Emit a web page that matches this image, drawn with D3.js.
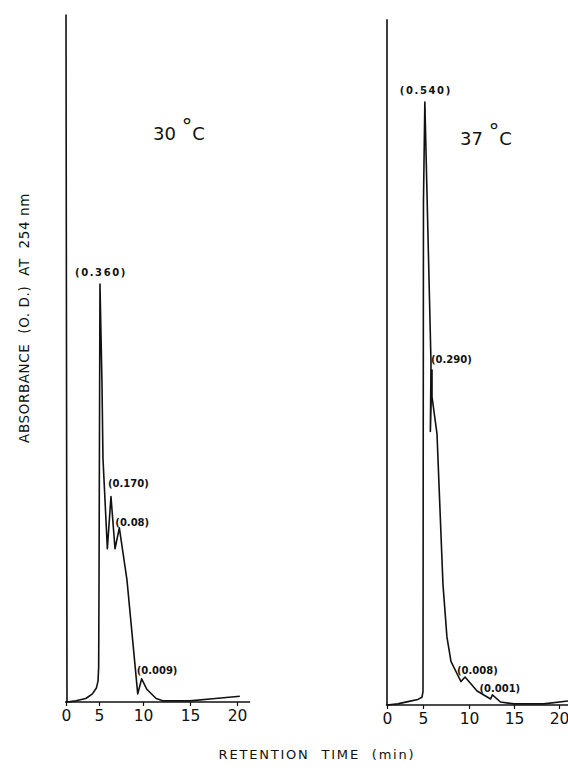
<!DOCTYPE html>
<html>
<head>
<meta charset="utf-8">
<script src="https://cdn.jsdelivr.net/npm/d3@7"></script>
<style>
  body { margin: 0; background: #fff; }
  text { font-family: "DejaVu Sans", sans-serif; fill: #111; white-space: pre; }
</style>
</head>
<body>
<svg id="chart" width="568" height="768"></svg>
<script>
// tick labels on both time axes (min)
const tickValues = [0, 5, 10, 15, 20];

// 30 °C trace: retention time (min) vs absorbance (O.D.)
const times30 = [0, 0.15, 1.5, 3, 4, 4.6, 4.85, 4.95, 5.0, 5.11, 5.34, 5.45, 5.95, 6.36, 6.82, 7.31, 8.18, 9.4, 9.85, 10.4, 11.4, 12.1, 15, 17.7, 20.3];
const abs30   = [0.592, 0, 0.001, 0.003, 0.007, 0.012, 0.018, 0.03, 0.1, 0.36, 0.274, 0.21, 0.132, 0.177, 0.132, 0.150, 0.105, 0.007, 0.020, 0.011, 0.003, 0.001, 0.001, 0.003, 0.005];

// 37 °C trace
const times37 = [0, 0, 1.5, 2.9, 4.3, 4.86, 5.0, 5.05, 5.2, 5.87, 5.8, 5.98, 5.98, 6.52, 7.17, 7.6, 8.04, 8.7, 9.13, 9.57, 10.9, 12.4, 12.6, 13.5, 15, 18.3, 21];
const abs37   = [0.614, 0, 0.001, 0.003, 0.005, 0.007, 0.012, 0.45, 0.54, 0.306, 0.245, 0.300, 0.276, 0.243, 0.108, 0.061, 0.039, 0.028, 0.021, 0.025, 0.0125, 0.0054, 0.009, 0.0027, 0.001, 0.001, 0.0036];

// peak annotations
const labels30     = ["(0.360)", "(0.170)", "(0.08)", "(0.009)"];
const labelTimes30 = [5.11, 6.36, 7.31, 9.85];
const labelAbs30   = [0.36, 0.177, 0.150, 0.020];

const labels37     = ["(0.540)", "(0.290)", "(0.008)", "(0.001)"];
const labelTimes37 = [5.2, 5.98, 9.57, 12.6];
const labelAbs37   = [0.54, 0.300, 0.025, 0.009];

const svg = d3.select("#chart");

// layout of each panel (the drawn axes are not evenly spaced near 0)
const panels = [
  { title: "30", times: times30, abs: abs30, labels: labels30, lt: labelTimes30, la: labelAbs30,
    xr: [66, 99, 143, 190, 237], axisEnd: 21.4, y0: 702, yRef: 284, ref: 0.36, titleX: 153, titleY: 140,
    lab: [{dx: 1, dy: -8, a: "middle", ls: 1.6}, {dx: -3, dy: -9, a: "start", ls: 0},
          {dx: -4, dy: -2, a: "start", ls: 0}, {dx: -5, dy: -5, a: "start", ls: 0}] },
  { title: "37", times: times37, abs: abs37, labels: labels37, lt: labelTimes37, la: labelAbs37,
    xr: [387, 423, 469, 514, 559], axisEnd: 21, y0: 705, yRef: 102, ref: 0.54, titleX: 460, titleY: 145,
    lab: [{dx: 1, dy: -8, a: "middle", ls: 1.6}, {dx: -1, dy: -7, a: "start", ls: 0},
          {dx: -8, dy: -3, a: "start", ls: 0}, {dx: -13, dy: -3, a: "start", ls: 0}] }
];

panels.forEach(function(p) {
  let x = d3.scaleLinear().domain(tickValues).range(p.xr),
      y = d3.scaleLinear().domain([0, p.ref]).range([p.y0, p.yRef]);

  let g = svg.append("g");

  // baseline / time axis
  g.append("line")
      .attr("x1", x(0) - 1).attr("x2", x(p.axisEnd))
      .attr("y1", y(0)).attr("y2", y(0))
      .attr("stroke", "#111").attr("stroke-width", 1.6);

  let axis = g.append("g")
      .attr("transform", "translate(0," + y(0) + ")")
      .call(d3.axisBottom(x).tickValues(tickValues).tickSize(4).tickPadding(4));
  axis.select(".domain").remove();
  axis.selectAll("line").attr("stroke", "#111").attr("stroke-width", 1.2);
  axis.selectAll("text")
      .style("font-family", "'DejaVu Sans', sans-serif")
      .style("font-size", "15.5px")
      .attr("fill", "#111");

  // trace
  let pts = p.times.map(function(t, i) { return [t, p.abs[i]]; });
  g.append("path")
      .datum(pts)
      .attr("fill", "none")
      .attr("stroke", "#111")
      .attr("stroke-width", 1.6)
      .attr("stroke-linejoin", "round")
      .attr("d", d3.line()
          .x(function(d) { return x(d[0]); })
          .y(function(d) { return y(d[1]); }));

  // peak labels
  p.labels.forEach(function(txt, i) {
    let o = p.lab[i];
    g.append("text")
        .attr("x", x(p.lt[i]) + o.dx)
        .attr("y", y(p.la[i]) + o.dy)
        .attr("text-anchor", o.a)
        .attr("font-size", 10)
        .attr("font-weight", "bold")
        .attr("letter-spacing", o.ls)
        .text(txt);
  });

  // temperature title
  let t = g.append("text")
      .attr("x", p.titleX)
      .attr("y", p.titleY)
      .attr("font-size", 18);
  t.append("tspan").text(p.title + " ");
  t.append("tspan").attr("dy", -6).attr("font-size", 21).text("°");
  t.append("tspan").attr("dy", 6).text("C");
});

// axis titles
svg.append("text")
    .attr("transform", "translate(29,318) rotate(-90)")
    .attr("text-anchor", "middle")
    .attr("font-size", 13.5)
    .attr("letter-spacing", 0.6)
    .text("ABSORBANCE  (O. D.)  AT  254 nm");

svg.append("text")
    .attr("x", 317)
    .attr("y", 759)
    .attr("text-anchor", "middle")
    .attr("font-size", 13)
    .attr("letter-spacing", 1.8)
    .text("RETENTION  TIME  (min)");
</script>
</body>
</html>
